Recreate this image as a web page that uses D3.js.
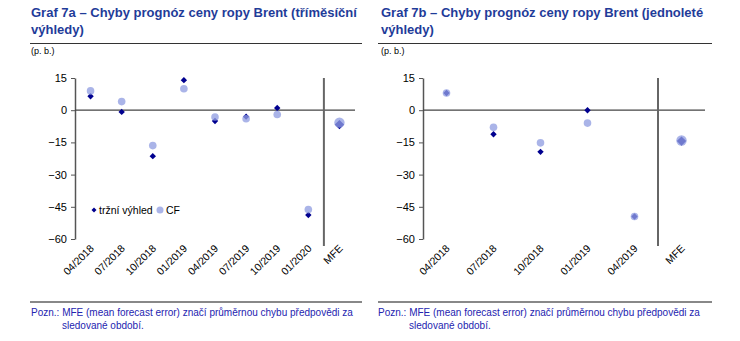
<!DOCTYPE html>
<html><head><meta charset="utf-8">
<script src="https://cdn.jsdelivr.net/npm/d3@7"></script>
<style>body{margin:0;background:#fff}svg{display:block}text{font-family:"Liberation Sans",Arial,sans-serif}</style>
</head><body><svg id="c" width="740" height="341"></svg>
<script>
const catsA = ["04/2018","07/2018","10/2018","01/2019","04/2019","07/2019","10/2019","01/2020","MFE"];
const marketA = [6.5,-0.8,-21.4,14,-5,-3,1,-48.8,-6.7];
const cfA = [9,4,-16.5,10,-3.2,-4,-2,-46.3,-5.8];
const catsB = ["04/2018","07/2018","10/2018","01/2019","04/2019","MFE"];
const marketB = [8,-11.2,-19.4,0,-49.5,-14.4];
const cfB = [8,-8,-15.2,-6,-49.5,-14.1];
const yTicks = [15,0,-15,-30,-45,-60];
const titles = ["Graf 7a – Chyby prognóz ceny ropy Brent (tříměsíční|výhledy)",
                "Graf 7b – Chyby prognóz ceny ropy Brent (jednoleté|výhledy)"];
const unitLabel = "(p. b.)";
const noteLines = ["Pozn.: MFE (mean forecast error) značí průměrnou chybu předpovědi za","sledované období."];
const legendLabels = ["tržní výhled","CF"];

const svg = d3.select("#c");
const navy = "#00008f", cfCol = "rgb(144,157,225)";

function panel(o){
  const g = svg.append("g");
  const tl = o.title.split("|");
  g.append("text").attr("x",o.tx).attr("y",17).attr("font-size",13).attr("font-weight","bold").attr("fill","#1f3c99").text(tl[0]);
  g.append("text").attr("x",o.tx).attr("y",34).attr("font-size",13).attr("font-weight","bold").attr("fill","#1f3c99").text(tl[1]);
  g.append("line").attr("x1",o.rx0).attr("x2",o.rx1).attr("y1",43.5).attr("y2",43.5).attr("stroke","#333").attr("stroke-width",1.2);
  g.append("text").attr("x",o.tx).attr("y",54).attr("font-size",9).attr("fill","#000").text(unitLabel);
  g.append("line").attr("x1",o.rx0).attr("x2",o.rx1).attr("y1",302).attr("y2",302).attr("stroke","#888").attr("stroke-width",2);
  g.append("text").attr("x",o.nx).attr("y",316).attr("font-size",10).attr("fill","#2424b0").text(noteLines[0]);
  g.append("text").attr("x",o.nx+31).attr("y",329).attr("font-size",10).attr("fill","#2424b0").text(noteLines[1]);

  const y = d3.scaleLinear().domain([-60,15]).range([239,78]);
  const x = d3.scaleBand().domain(o.cats).range([o.x0,o.x1]).padding(0);
  const ya = g.append("g").attr("transform",`translate(${o.x0},0)`)
    .call(d3.axisLeft(y).tickValues(yTicks).tickSize(4).tickSizeOuter(0).tickFormat(d3.format("d")));
  ya.select(".domain").attr("stroke","#555").attr("stroke-width",1.5);
  ya.selectAll(".tick line").attr("stroke","#555");
  ya.selectAll("text").attr("font-size",11).attr("fill","#000").attr("font-family","Liberation Sans, Arial, sans-serif").attr("dx",-1);
  g.append("line").attr("x1",o.x0).attr("x2",o.x1).attr("y1",y(0)).attr("y2",y(0)).attr("stroke","#444").attr("stroke-width",1.2);
  const sx = x("MFE");
  g.append("line").attr("x1",sx).attr("x2",sx).attr("y1",y(15)).attr("y2",246).attr("stroke","#666").attr("stroke-width",2);
  o.cats.forEach(c=>{
    g.append("text").attr("transform",`translate(${x(c)+x.bandwidth()/2+4},249) rotate(-45)`)
      .attr("text-anchor","end").attr("font-size",10.5).attr("fill","#000").text(c);
  });
  const cx = c=>x(c)+x.bandwidth()/2;
  const sym = d3.symbol().type(d3.symbolDiamond2);
  o.cats.forEach((c,i)=>{
    const big = c==="MFE";
    g.append("path").attr("d",sym.size(big?56:26)()).attr("transform",`translate(${cx(c)},${y(o.mk[i])})`).attr("fill",navy);
  });
  o.cats.forEach((c,i)=>{
    const big = c==="MFE";
    g.append("circle").attr("cx",cx(c)).attr("cy",y(o.cf[i])).attr("r",big?5.2:3.8).attr("fill",cfCol).attr("fill-opacity",0.77);
  });
  if(o.legend){
    const ly = y(-46.5);
    g.append("path").attr("d",sym.size(16)()).attr("transform",`translate(94,${ly})`).attr("fill",navy);
    g.append("text").attr("x",99).attr("y",ly+4).attr("font-size",10.5).text(legendLabels[0]);
    g.append("circle").attr("cx",160).attr("cy",ly).attr("r",3.5).attr("fill",cfCol).attr("fill-opacity",0.77);
    g.append("text").attr("x",166).attr("y",ly+4).attr("font-size",10.5).text(legendLabels[1]);
  }
}
panel({title:titles[0],tx:31,rx0:30,rx1:362,nx:31,cats:catsA,mk:marketA,cf:cfA,x0:75,x1:355,legend:true});
panel({title:titles[1],tx:381,rx0:378,rx1:712,nx:378,cats:catsB,mk:marketB,cf:cfB,x0:423,x1:705,legend:false});
</script></body></html>
